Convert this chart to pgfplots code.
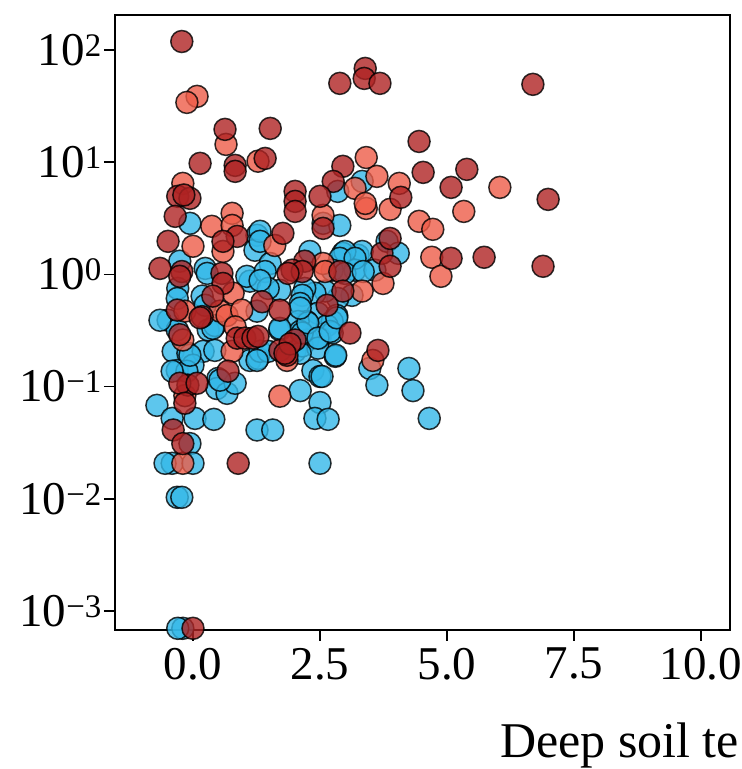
\documentclass[border=0pt]{standalone}
\usepackage{pgfplots}
\pgfplotsset{compat=1.18}
\usepackage{fontspec}
\setmainfont{Liberation Serif}
\usetikzlibrary{calc}
\definecolor{dred}{RGB}{175,35,35}
\definecolor{salm}{RGB}{238,92,72}
\definecolor{sky}{RGB}{52,184,232}
\pgfplotsset{
  dot/.style={only marks, mark=*, mark size=11pt,
    mark options={fill=#1, fill opacity=0.8, draw=black, draw opacity=0.8, line width=1.5pt}}
}
\begin{document}
\begin{tikzpicture}
\begin{axis}[
  name=ax,
  scale only axis, width=615pt, height=615pt,
  ymode=log,
  xmin=-1.535, xmax=10.57,
  ymin=6.76e-4, ymax=205,
  clip=false,
  axis line style={line width=1.6pt},
  tick align=outside,
  xtick pos=left, ytick pos=left,
  major tick length=11pt,
  yminorticks=false, xminorticks=false,
  every tick/.style={line width=1.6pt, black},
  xtick={0,2.5,5,7.5,10},
  xticklabels={0.0,2.5,5.0,7.5,10.0},
  ytick={1e-3,1e-2,1e-1,1,10,100},
  yticklabels={10\textsuperscript{−3},10\textsuperscript{−2},10\textsuperscript{−1},10\textsuperscript{0},10\textsuperscript{1},10\textsuperscript{2}},
  ticklabel style={font=\fontsize{47}{50}\selectfont},
  xticklabel style={inner sep=2pt, yshift=-5pt},
  yticklabel style={inner sep=2pt},
]
% blue
\addplot[dot=sky] coordinates {
(3.33,6.74)(2.85,5.49)(2.56,2.85)(2.89,2.73)(-0.06,2.85)(1.26,2.23)(1.22,1.64)(1.32,2.42)(1.32,1.97)(1.52,1.25)
(0.24,1.13)(-0.26,1.31)(2.95,1.54)(3.25,1.48)(3.82,1.97)(4.04,1.54)(3.33,1.60)(2.99,1.60)(2.89,1.39)(2.30,1.60)
(3.19,1.09)(3.58,1.09)(2.74,1.09)(3.19,1.39)(0.28,1.02)(1.12,0.87)(1.06,0.96)(-0.30,0.75)(-0.31,0.61)(0.18,0.64)
(0.24,0.53)(-0.49,0.39)(1.26,0.47)(-0.31,0.32)(0.30,0.32)(0.43,0.35)(-0.39,0.206)(-0.10,0.198)(0.20,0.206)(0.43,0.21)
(1.12,0.171)(1.28,0.178)(-0.31,0.139)(0.0,0.155)(0.49,0.118)(0.47,0.096)(0.67,0.087)(0.83,0.107)(-0.71,0.068)(1.42,1.06)
(2.99,1.02)(3.35,1.06)(3.13,0.65)(2.85,0.61)(2.60,0.71)(2.40,0.68)(2.20,0.75)(2.15,0.65)(1.71,0.72)(1.48,0.75)
(1.32,0.88)(2.11,0.55)(2.46,0.45)(2.83,0.43)(2.74,0.38)(2.64,0.35)(2.24,0.38)(2.07,0.38)(1.71,0.32)(2.11,0.31)
(2.26,0.26)(2.50,0.27)(2.74,0.30)(1.32,0.206)(1.48,0.206)(2.01,0.206)(2.15,0.23)(2.46,0.22)(2.80,0.186)(2.36,0.139)
(2.50,0.123)(3.48,0.145)(3.62,0.103)(4.25,0.145)(4.33,0.092)(4.65,0.052)(2.11,0.092)(2.50,0.072)(2.40,0.052)(2.66,0.051)
(1.26,0.041)(1.57,0.041)(2.50,0.0207)(-0.41,0.052)(0.04,0.052)(0.41,0.051)(-0.06,0.031)(-0.41,0.0207)(-0.55,0.0207)(0.0,0.0207)
(-0.31,0.0103)(-0.22,0.0103)(-0.20,0.0007)(-0.30,0.0007)(-0.12,0.137)(-0.41,0.137)(-0.06,0.190)(-0.65,0.39)(0.39,0.33)(1.26,0.171)
(2.11,0.198)(2.15,0.30)(2.26,0.37)(2.46,0.27)(2.70,0.31)(2.83,0.41)(2.54,0.123)(2.81,0.190)(1.71,0.33)(2.11,0.50)
(0.53,0.114)
};
% salmon
\addplot[dot=salm] coordinates {
(0.08,38.6)(-0.12,34.1)(0.65,14.4)(1.28,10.2)(3.41,11.0)(3.62,7.47)(4.06,6.47)(6.04,5.96)(5.33,3.64)(3.41,3.87)
(3.88,3.80)(4.45,2.97)(4.72,2.52)(4.70,1.42)(4.88,0.96)(3.19,5.84)(2.56,3.36)(-0.20,6.47)(0.37,2.68)(0.77,3.50)
(0.77,2.73)(0.59,1.60)(0.0,1.78)(1.61,1.81)(2.56,1.25)(3.74,0.83)(3.33,0.71)(3.39,4.29)(2.60,1.06)(0.79,0.68)
(-0.16,0.47)(0.53,0.47)(0.67,0.43)(0.96,0.48)(-0.20,0.26)(0.83,0.34)(0.77,0.206)(1.85,0.171)(3.54,0.171)(1.71,0.082)
(-0.20,0.0207)(-0.16,0.083)
};
% dark red
\addplot[dot=dred] coordinates {
(-0.22,119)(2.89,50.4)(3.39,68.5)(3.37,55.8)(3.68,50.4)(6.69,49.4)(0.63,19.6)(1.52,20.0)(0.14,9.76)(0.83,9.36)
(0.83,8.28)(1.42,10.8)(2.95,9.18)(4.45,15.3)(4.53,8.11)(5.39,8.63)(5.08,5.96)(6.99,4.66)(4.09,4.86)(2.76,6.74)
(2.50,4.96)(2.01,5.49)(2.01,4.47)(2.01,3.64)(2.56,2.57)(1.77,2.32)(-0.30,4.96)(-0.06,4.76)(-0.18,5.1)(-0.35,3.29)
(0.87,2.18)(0.59,1.97)(-0.49,1.97)(-0.65,1.13)(-0.22,1.06)(0.57,1.02)(2.20,1.31)(3.72,1.54)(3.88,1.18)(3.88,2.09)
(5.08,1.39)(5.73,1.42)(6.89,1.18)(1.95,1.09)(2.15,1.06)(2.89,1.06)(-0.26,0.96)(0.59,0.83)(0.39,0.64)(1.87,1.02)
(2.95,0.71)(1.36,0.57)(1.71,0.48)(2.64,0.53)(0.18,0.42)(-0.26,0.29)(0.87,0.27)(1.02,0.27)(1.18,0.27)(2.01,0.26)
(3.09,0.30)(1.28,0.28)(1.71,0.21)(1.85,0.19)(3.64,0.21)(0.69,0.137)(-0.10,0.103)(-0.26,0.107)(0.08,0.107)(-0.16,0.071)
(-0.39,0.041)(-0.20,0.031)(0.89,0.0207)(0.0,0.0007)(1.91,0.24)(1.81,0.198)(-0.31,0.48)(0.14,0.41)
};
\end{axis}
\node[anchor=base west, font=\fontsize{50}{54}\selectfont, inner sep=0pt] at ($(ax.south west)+(385pt,-127pt)$) {Deep soil te};
\pgfresetboundingbox
\path[use as bounding box] ($(ax.south west)+(-115pt,-139pt)$) rectangle ($(ax.south west)+(627pt,630pt)$);
\end{tikzpicture}
\end{document}
